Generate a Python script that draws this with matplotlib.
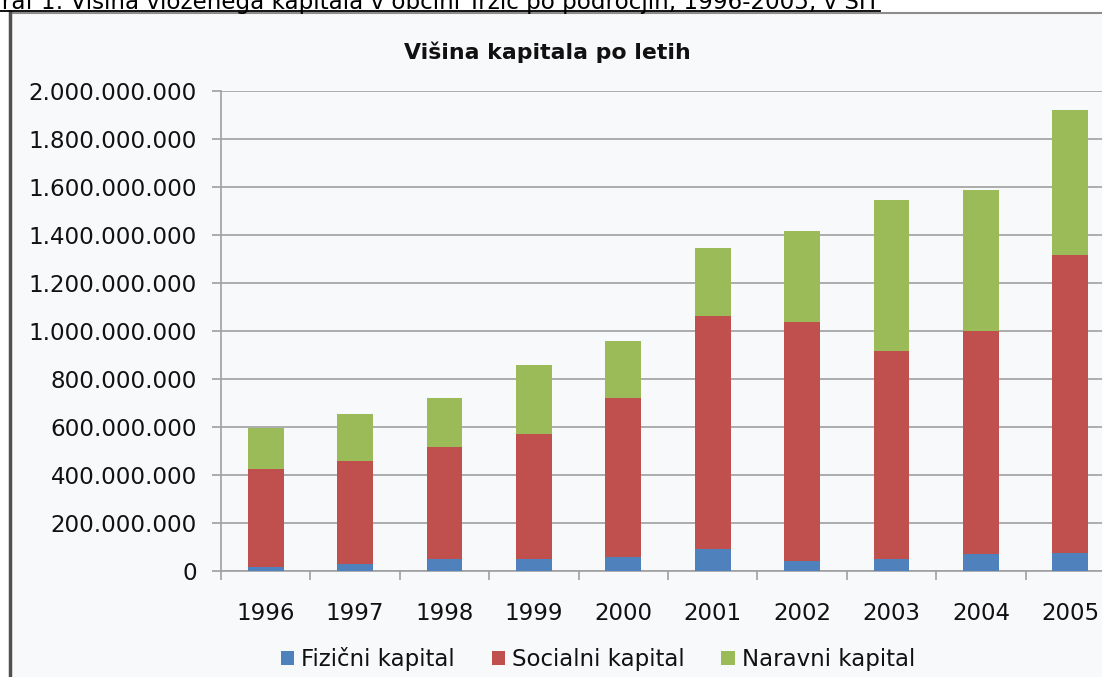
import matplotlib.pyplot as plt
from matplotlib.patches import Rectangle
from matplotlib.lines import Line2D
from matplotlib.ticker import FuncFormatter, MultipleLocator

plt.rcParams["font.family"] = ["DejaVu Sans"]

# podatki (odčitano z grafa)
leta = ["1996", "1997", "1998", "1999", "2000", "2001", "2002", "2003", "2004", "2005"]
fizicni = [15e6, 29e6, 50e6, 50e6, 58e6, 92e6, 42e6, 50e6, 71e6, 75e6]
socialni_vrh = [425e6, 458e6, 517e6, 571e6, 721e6, 1062e6, 1038e6, 917e6, 1000e6, 1317e6]
skupaj = [596e6, 654e6, 721e6, 858e6, 958e6, 1346e6, 1417e6, 1546e6, 1588e6, 1921e6]

socialni = [s - f for s, f in zip(socialni_vrh, fizicni)]
naravni = [t - s for t, s in zip(skupaj, socialni_vrh)]

W, H = 1102, 677
fig = plt.figure(figsize=(W / 100, H / 100), dpi=100)
fig.patch.set_facecolor("white")

# okvir grafa
fig.add_artist(Rectangle((10 / W, 0), 1.2, 1 - 12 / H, transform=fig.transFigure,
                         facecolor="#F8F9FB", edgecolor="none", zorder=0))
fig.add_artist(Line2D([10 / W, 1], [1 - 12.5 / H, 1 - 12.5 / H], transform=fig.transFigure,
                      color="#8C8C8C", lw=1.5))
fig.add_artist(Line2D([9.5 / W, 9.5 / W], [0, 1 - 12 / H], transform=fig.transFigure,
                      color="#505050", lw=2.5))

# naslov slike nad grafom (odrezan)
fig.text(880 / W, 1 - 8.5 / H,
         "Graf 1: Višina vloženega kapitala v občini Tržič po področjih, 1996-2005, v SIT",
         ha="right", va="baseline", fontsize=16.55, color="black")
fig.add_artist(Line2D([0, 880 / W], [1 - 10.5 / H, 1 - 10.5 / H], transform=fig.transFigure,
                      color="black", lw=1.3))

ax = fig.add_axes([221 / W, 1 - 571 / H, (1115 - 221) / W, 480 / H])
ax.set_facecolor("none")

x = range(len(leta))
sirina = 0.4
ax.bar(x, fizicni, sirina, color="#4F81BD", label="Fizični kapital", zorder=3)
ax.bar(x, socialni, sirina, bottom=fizicni, color="#C0504D", label="Socialni kapital", zorder=3)
ax.bar(x, naravni, sirina, bottom=socialni_vrh, color="#9BBB59", label="Naravni kapital", zorder=3)

ax.set_xlim(-0.5, len(leta) - 0.5)
ax.set_ylim(0, 2e9)
ax.yaxis.set_major_locator(MultipleLocator(2e8))
ax.yaxis.set_major_formatter(FuncFormatter(lambda v, p: f"{v:,.0f}".replace(",", ".")))
ax.grid(axis="y", color="#A0A0A0", lw=1.2, zorder=1)

ax.set_xticks(list(x))
ax.set_xticklabels(leta)
ax.set_xticks([i - 0.5 for i in range(len(leta) + 1)], minor=True)
ax.tick_params(axis="x", which="major", length=0, pad=22, labelsize=16.5, labelcolor="#111111")
ax.tick_params(axis="x", which="minor", length=6.5, width=1.2, color="#A0A0A0", direction="out")
ax.tick_params(axis="y", length=6.5, width=1.2, color="#A0A0A0", pad=11,
               labelsize=16.6, labelcolor="#111111")

for s in ["top", "right"]:
    ax.spines[s].set_visible(False)
for s in ["left", "bottom"]:
    ax.spines[s].set_color("#A0A0A0")
    ax.spines[s].set_linewidth(1.2)

fig.text(547 / W, 1 - 52 / H, "Višina kapitala po letih", ha="center", va="center",
         fontsize=15.8, fontweight="bold", color="#111111")

fig.legend(loc="center", bbox_to_anchor=(598 / W, 1 - 659 / H), ncol=3, frameon=False,
           fontsize=16.5, handlelength=0.6, handleheight=0.6, handletextpad=0.3,
           columnspacing=1.6, labelcolor="#111111")

plt.savefig("out.png", dpi=100)
